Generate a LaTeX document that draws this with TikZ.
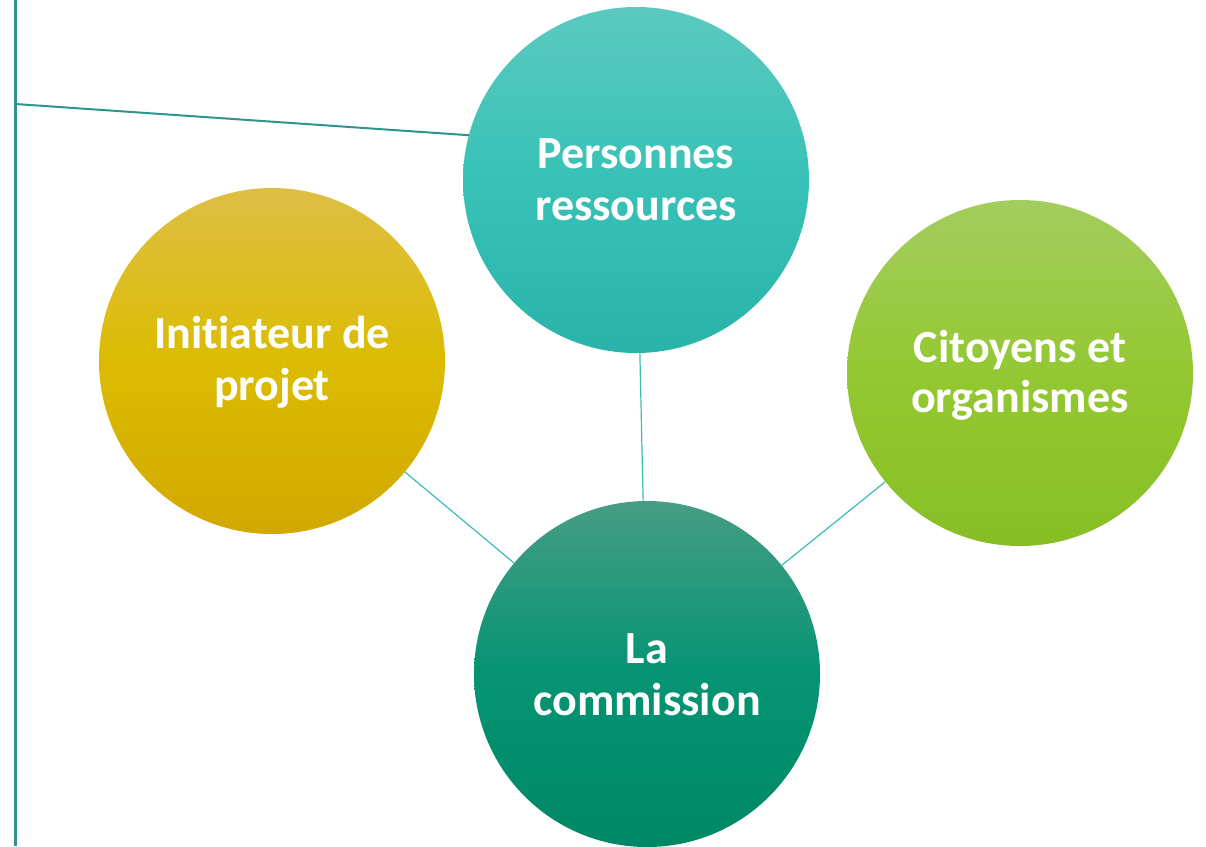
\documentclass[tikz,border=0pt]{standalone}
\usepackage{fontspec}
\setmainfont{Carlito}[Ligatures=CommonOff]
\usetikzlibrary{calc}
\definecolor{frameteal}{HTML}{2E958A}
\definecolor{linkteal}{HTML}{3DBDB6}
\definecolor{prTop}{HTML}{5BC9BF}
\definecolor{prMid}{HTML}{38C2B7}
\definecolor{prBot}{HTML}{2AB4A9}
\definecolor{inTop}{HTML}{DEBF46}
\definecolor{inMid}{HTML}{DBBC02}
\definecolor{inBot}{HTML}{D2A800}
\definecolor{ciTop}{HTML}{A3CD5E}
\definecolor{ciMid}{HTML}{94C832}
\definecolor{ciBot}{HTML}{87BE25}
\definecolor{coTop}{HTML}{479D84}
\definecolor{coMid}{HTML}{059473}
\definecolor{coBot}{HTML}{008866}
\begin{document}
\begin{tikzpicture}[x=1pt,y=-1pt,
  bubble/.style={circle, minimum size=346pt, inner sep=0pt, outer sep=0pt},
  lbl/.style={text=white, font=\fontsize{46}{54}\selectfont\bfseries, anchor=base, inner sep=0pt},
  link/.style={draw=linkteal, line width=1.2pt},
  frameline/.style={draw=frameteal, line width=2.4pt}]
\fill[white] (0,0) rectangle (1206,846);
\useasboundingbox (0,0) rectangle (1206,846);
% circles
\node[bubble, top color=prTop, bottom color=prBot, middle color=prMid] (pr) at (636,180) {};
\node[bubble, top color=inTop, bottom color=inBot, middle color=inMid] (in) at (272,361) {};
\node[bubble, top color=ciTop, bottom color=ciBot, middle color=ciMid] (ci) at (1020,373) {};
\node[bubble, top color=coTop, bottom color=coBot, middle color=coMid] (co) at (647,674) {};
% frame lines
\coordinate (vtop) at (15.5,0);
\coordinate (vbot) at (15.5,846);
\coordinate (hstart) at (15.5,104);
\draw[frameline] (vtop) -- (vbot);
\draw[frameline, line width=2pt] (hstart) -- (pr.165);
% connectors
\draw[link] (pr) -- (co);
\draw[link] (in) -- (co);
\draw[link] (ci) -- (co);
% labels
\node[lbl] (pr1) at ($(pr.center)+(0,-12)$) {Personnes};
\node[lbl] (pr2) at ($(pr.center)+(0,40)$) {ressources};
\node[lbl] (in1) at ($(in.center)+(0,-13)$) {Initiateur de};
\node[lbl] (in2) at ($(in.center)+(0,39)$) {projet};
\node[lbl] (ci1) at ($(ci.center)+(0,-11)$) {Citoyens et};
\node[lbl] (ci2) at ($(ci.center)+(0,39)$) {organismes};
\node[lbl] (co1) at ($(co.center)+(0,-11)$) {La};
\node[lbl] (co2) at ($(co.center)+(0,41)$) {commission};
\end{tikzpicture}
\end{document}
